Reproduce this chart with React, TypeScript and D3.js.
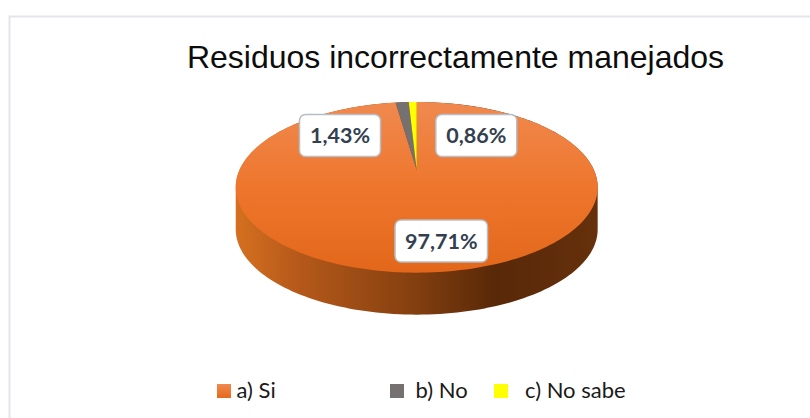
import React from "react";
import * as d3 from "d3";

const title = "Residuos incorrectamente manejados";
const categories = ["a) Si", "b) No", "c) No sabe"];
const values = [97.71, 1.43, 0.86];
const valueLabels = ["97,71%", "1,43%", "0,86%"];
const faceColors = ["url(#faceGrad)", "#767171", "#ffff00"];
const legendFills = ["url(#swatchGrad)", "#767171", "#ffff00"];

const W = 810;
const H = 418;
const apexX = 416.7;
const apexY = 170;
const persp = 0.203;
const halfW = 177.2;
const halfH = 81.8;
const depth = 42;

// circle angle (0 at the back, clockwise) -> screen point, with perspective
const project = (a: number): [number, number] => {
  const u = Math.sin(a);
  const v = Math.cos(a);
  const w = 1 + persp * v;
  return [apexX + (halfW * u) / w, apexY - (halfH * v) / w];
};

const pieGen = d3.pie<number>().sort(null).value((d) => d);
const slices = pieGen(values);
const lineGen = d3.line().curve(d3.curveLinearClosed);

const arcPoints = (a0: number, a1: number) =>
  d3.range(0, 241).map((i) => project(a0 + ((a1 - a0) * i) / 240));

const ring = arcPoints(0, Math.PI * 2);
const sideHull = d3.polygonHull([
  ...ring,
  ...ring.map(([x, y]) => [x, y + depth] as [number, number]),
]) as [number, number][];

const labelBoxes = [
  { x: 395, y: 220, w: 92.5, h: 42 },
  { x: 299.5, y: 114.5, w: 81, h: 42 },
  { x: 435.8, y: 114.5, w: 81, h: 42 },
];
const legendX = [217, 390, 494];
const legendTextX = [236.5, 415.5, 525];

export default function App() {
  return (
    <svg
      width={W}
      height={H}
      viewBox={`0 0 ${W} ${H}`}
      style={{ position: "absolute", left: 0, top: 0, background: "#fff" }}
    >
      <defs>
        <linearGradient id="faceGrad" gradientUnits="userSpaceOnUse" x1="0" y1="102" x2="0" y2="273">
          <stop offset="0" stopColor="#f0894f" />
          <stop offset="0.5" stopColor="#ee762c" />
          <stop offset="1" stopColor="#e2671b" />
        </linearGradient>
        <linearGradient id="sideGrad" gradientUnits="userSpaceOnUse" x1="236" y1="0" x2="598" y2="0">
          <stop offset="0" stopColor="#d4701f" />
          <stop offset="0.18" stopColor="#b4581a" />
          <stop offset="0.45" stopColor="#8b4311" />
          <stop offset="0.72" stopColor="#582808" />
          <stop offset="1" stopColor="#66310c" />
        </linearGradient>
        <linearGradient id="swatchGrad" x1="0" y1="0" x2="0" y2="1">
          <stop offset="0" stopColor="#f0894f" />
          <stop offset="1" stopColor="#e5691b" />
        </linearGradient>
      </defs>

      <path d="M9.5 418 V16.5 H810" fill="none" stroke="#e3e5ea" strokeWidth={2} />

      <text
        x={455.5}
        y={68}
        textAnchor="middle"
        fontFamily="'Liberation Sans', Arial, sans-serif"
        fontSize={32}
        fill="#0d0d0d"
      >
        {title}
      </text>

      <path d={lineGen(sideHull) ?? ""} fill="url(#sideGrad)" />
      {slices.map((s, i) => (
        <path
          key={categories[i]}
          d={lineGen([[apexX, apexY], ...arcPoints(s.startAngle, s.endAngle)]) ?? ""}
          fill={faceColors[i]}
        />
      ))}

      {labelBoxes.map((b, i) => (
        <g key={valueLabels[i]}>
          <rect
            x={b.x}
            y={b.y}
            width={b.w}
            height={b.h}
            rx={6}
            fill="#fff"
            stroke="#b7bdc2"
            strokeWidth={1.5}
          />
          <text
            x={b.x + b.w / 2}
            y={b.y + b.h / 2 + 7.5}
            textAnchor="middle"
            fontFamily="Lato, Carlito, sans-serif"
            fontWeight={700}
            fontSize={21.5}
            fill="#333f50"
          >
            {valueLabels[i]}
          </text>
        </g>
      ))}

      {categories.map((c, i) => (
        <g key={c}>
          <rect x={legendX[i]} y={384} width={14} height={14} fill={legendFills[i]} />
          <text x={legendTextX[i]} y={398} fontFamily="Lato, Carlito, sans-serif" fontSize={22} fill="#1a1a1a">
            {c}
          </text>
        </g>
      ))}
    </svg>
  );
}
